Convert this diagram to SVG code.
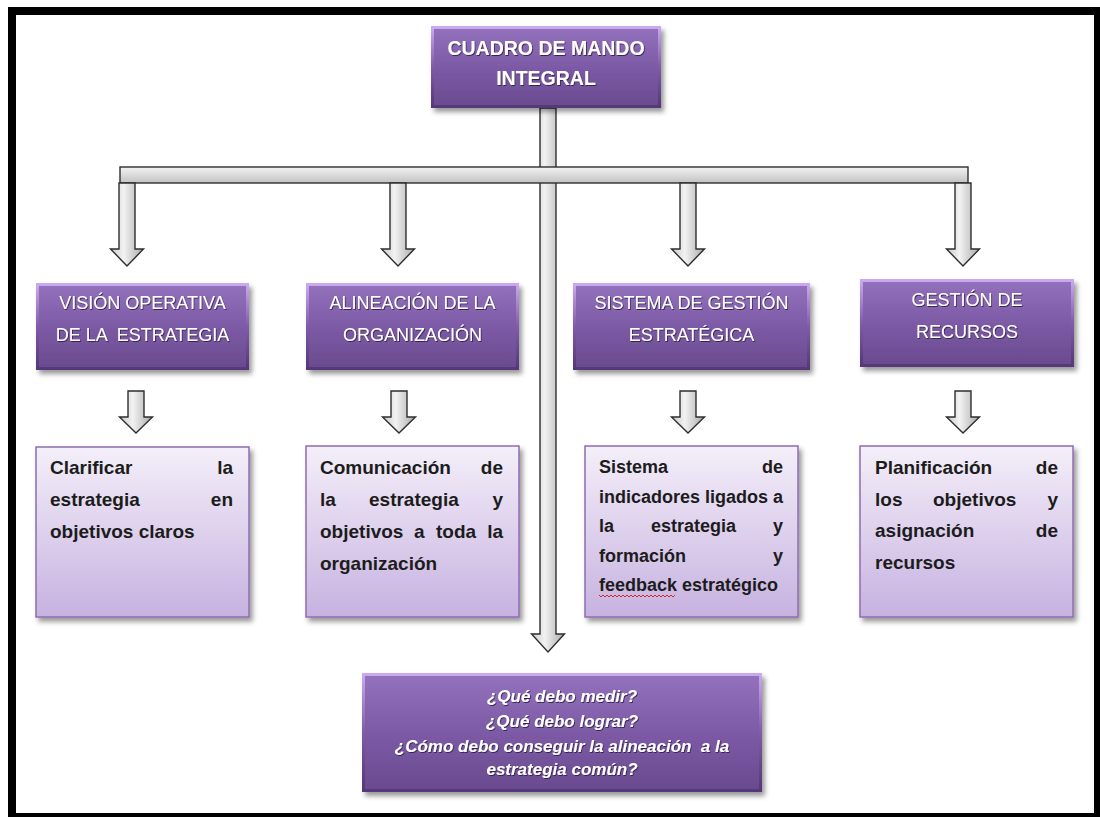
<svg xmlns="http://www.w3.org/2000/svg" width="1100" height="817" viewBox="0 0 1100 817">
  <defs>
    <linearGradient id="purpleFill" x1="0" y1="0" x2="0" y2="1">
      <stop offset="0" stop-color="#9472bd"/>
      <stop offset="0.5" stop-color="#7d5aa6"/>
      <stop offset="1" stop-color="#694a8e"/>
    </linearGradient>
    <linearGradient id="purpleBevel" x1="0" y1="0" x2="0" y2="1">
      <stop offset="0" stop-color="#c9a9ef"/>
      <stop offset="0.5" stop-color="#7f5ca8"/>
      <stop offset="1" stop-color="#553877"/>
    </linearGradient>
    <linearGradient id="lilacFill" x1="0" y1="0" x2="0" y2="1">
      <stop offset="0" stop-color="#f4eff9"/>
      <stop offset="1" stop-color="#c7b2e0"/>
    </linearGradient>
    <linearGradient id="arrowFill" x1="0" y1="0" x2="1" y2="0">
      <stop offset="0" stop-color="#c8c8c8"/>
      <stop offset="0.4" stop-color="#f2f2f2"/>
      <stop offset="1" stop-color="#a9a9a9"/>
    </linearGradient>
    <linearGradient id="barFill" x1="0" y1="0" x2="0" y2="1">
      <stop offset="0" stop-color="#f3f3f3"/>
      <stop offset="1" stop-color="#c2c2c2"/>
    </linearGradient>
    <filter id="shadow" x="-10%" y="-10%" width="125%" height="130%">
      <feDropShadow dx="3" dy="4" stdDeviation="2.5" flood-color="#000" flood-opacity="0.4"/>
    </filter>
    <filter id="glow" x="-5%" y="-20%" width="110%" height="150%">
      <feDropShadow dx="0.8" dy="1" stdDeviation="0.7" flood-color="#2e1a45" flood-opacity="0.9"/>
    </filter>
  </defs>
  <style>
    .pbox { fill: url(#purpleFill); filter: url(#shadow); }
    .pbevel { fill: none; stroke: url(#purpleBevel); stroke-width: 3; }
    .lbox { fill: url(#lilacFill); stroke: #8c6db3; stroke-width: 1.5; filter: url(#shadow); }
    .arrow { fill: url(#arrowFill); stroke: #2e2e2e; stroke-width: 1.4; stroke-linejoin: miter; }
    .bar { fill: url(#barFill); stroke: #2e2e2e; stroke-width: 1.4; }
    .head { font-family: "Liberation Sans", Arial, sans-serif; font-size: 18px; fill: #ffffff; text-anchor: middle; filter: url(#glow); }
    .title { font-weight: bold; font-size: 19.5px; }
    .body { font-family: "Liberation Sans", Arial, sans-serif; font-size: 19px; font-weight: bold; fill: #1c1c1c; }
    .small { font-size: 18px; }
    .r { text-anchor: end; }
    .q { font-family: "Liberation Sans", Arial, sans-serif; font-size: 17px; font-weight: bold; font-style: italic; fill: #ffffff; text-anchor: middle; filter: url(#glow); }
  </style>

  <rect x="0" y="0" width="1100" height="817" fill="#ffffff"/>
  <!-- outer frame -->
  <rect x="12" y="11" width="1086" height="806" fill="none" stroke="#000000" stroke-width="8"/>

  <!-- connectors -->
  <g id="connectors">
    <path class="arrow" d="M540 108 H556 V634 H564.5 L548 652 L531.5 634 H540 Z"/>
    <rect class="bar" x="120" y="167" width="848" height="16"/>
    <path class="arrow" d="M119 183 H135 V249 H143.5 L127 266 L110.5 249 H119 Z"/>
    <path class="arrow" d="M390 183 H406 V249 H414.5 L398 266 L381.5 249 H390 Z"/>
    <path class="arrow" d="M680 183 H696 V249 H704.5 L688 266 L671.5 249 H680 Z"/>
    <path class="arrow" d="M955 183 H971 V249 H979.5 L963 266 L946.5 249 H955 Z"/>
    <path class="arrow" d="M128 391 H144 V417 H152.5 L136 433 L119.5 417 H128 Z"/>
    <path class="arrow" d="M391 391 H407 V417 H415.5 L399 433 L382.5 417 H391 Z"/>
    <path class="arrow" d="M680 391 H696 V417 H704.5 L688 433 L671.5 417 H680 Z"/>
    <path class="arrow" d="M955 391 H971 V417 H979.5 L963 433 L946.5 417 H955 Z"/>
  </g>

  <!-- root -->
  <g id="cuadro-de-mando">
    <rect class="pbox" x="431" y="26" width="230" height="82"/>
    <rect class="pbevel" x="432.5" y="27.5" width="227" height="79"/>
    <text class="head title" x="546" y="55">CUADRO DE MANDO</text>
    <text class="head title" x="546" y="85">INTEGRAL</text>
  </g>

  <!-- perspectives -->
  <g id="vision-operativa">
    <rect class="pbox" x="36" y="283" width="213" height="87"/>
    <rect class="pbevel" x="37.5" y="284.5" width="210" height="84"/>
    <text class="head" x="142.5" y="309">VISIÓN OPERATIVA</text>
    <text class="head" x="142.5" y="341" xml:space="preserve">DE LA  ESTRATEGIA</text>
  </g>
  <g id="alineacion">
    <rect class="pbox" x="306" y="283" width="213" height="87"/>
    <rect class="pbevel" x="307.5" y="284.5" width="210" height="84"/>
    <text class="head" x="412.5" y="309">ALINEACIÓN DE LA</text>
    <text class="head" x="412.5" y="341">ORGANIZACIÓN</text>
  </g>
  <g id="sistema-gestion">
    <rect class="pbox" x="573" y="283" width="237" height="87"/>
    <rect class="pbevel" x="574.5" y="284.5" width="234" height="84"/>
    <text class="head" x="691.5" y="309">SISTEMA DE GESTIÓN</text>
    <text class="head" x="691.5" y="341">ESTRATÉGICA</text>
  </g>
  <g id="gestion-recursos">
    <rect class="pbox" x="860" y="279" width="214" height="88"/>
    <rect class="pbevel" x="861.5" y="280.5" width="211" height="85"/>
    <text class="head" x="967" y="306">GESTIÓN DE</text>
    <text class="head" x="967" y="338">RECURSOS</text>
  </g>

  <!-- descriptions -->
  <g id="clarificar">
    <rect class="lbox" x="36" y="447" width="213" height="170"/>
    <text class="body" x="50" y="474">Clarificar</text>
    <text class="body r" x="233" y="474">la</text>
    <text class="body" x="50" y="506">estrategia</text>
    <text class="body r" x="233" y="506">en</text>
    <text class="body" x="50" y="538">objetivos claros</text>
  </g>
  <g id="comunicacion">
    <rect class="lbox" x="306" y="446" width="213" height="171"/>
    <text class="body" x="320" y="474">Comunicación</text>
    <text class="body r" x="503" y="474">de</text>
    <text class="body" x="320" y="506">la</text>
    <text class="body" x="369" y="506">estrategia</text>
    <text class="body r" x="503" y="506">y</text>
    <text class="body" x="320" y="538">objetivos</text>
    <text class="body" x="414" y="538">a</text>
    <text class="body" x="436" y="538">toda</text>
    <text class="body r" x="503" y="538">la</text>
    <text class="body" x="320" y="570">organización</text>
  </g>
  <g id="indicadores">
    <rect class="lbox" x="585" y="446" width="213" height="171"/>
    <text class="body small" x="599" y="473">Sistema</text>
    <text class="body small r" x="783" y="473">de</text>
    <text class="body small" x="599" y="503">indicadores</text>
    <text class="body small" x="705" y="503">ligados</text>
    <text class="body small r" x="783" y="503">a</text>
    <text class="body small" x="599" y="532">la</text>
    <text class="body small" x="651" y="532">estrategia</text>
    <text class="body small r" x="783" y="532">y</text>
    <text class="body small" x="599" y="562">formación</text>
    <text class="body small r" x="783" y="562">y</text>
    <text class="body small" x="599" y="591">feedback estratégico</text>
    <path d="M599 595 l2 2 l2 -2 l2 2 l2 -2 l2 2 l2 -2 l2 2 l2 -2 l2 2 l2 -2 l2 2 l2 -2 l2 2 l2 -2 l2 2 l2 -2 l2 2 l2 -2 l2 2 l2 -2 l2 2 l2 -2 l2 2 l2 -2 l2 2 l2 -2 l2 2 l2 -2 l2 2 l2 -2 l2 2 l2 -2 l2 2 l2 -2 l2 2 l2 -2 l2 2 l2 -2" fill="none" stroke="#d42a2a" stroke-width="1"/>
  </g>
  <g id="planificacion">
    <rect class="lbox" x="860" y="446" width="213" height="171"/>
    <text class="body" x="875" y="474">Planificación</text>
    <text class="body r" x="1058" y="474">de</text>
    <text class="body" x="875" y="506">los</text>
    <text class="body" x="933" y="506">objetivos</text>
    <text class="body r" x="1058" y="506">y</text>
    <text class="body" x="875" y="537">asignación</text>
    <text class="body r" x="1058" y="537">de</text>
    <text class="body" x="875" y="569">recursos</text>
  </g>

  <!-- guiding questions -->
  <g id="preguntas">
    <rect class="pbox" x="362" y="673" width="400" height="119"/>
    <rect class="pbevel" x="363.5" y="674.5" width="397" height="116"/>
    <text class="q" x="562" y="702">¿Qué debo medir?</text>
    <text class="q" x="562" y="727">¿Qué debo lograr?</text>
    <text class="q" x="562" y="752" xml:space="preserve">¿Cómo debo conseguir la alineación  a la</text>
    <text class="q" x="562" y="775">estrategia común?</text>
  </g>
</svg>
